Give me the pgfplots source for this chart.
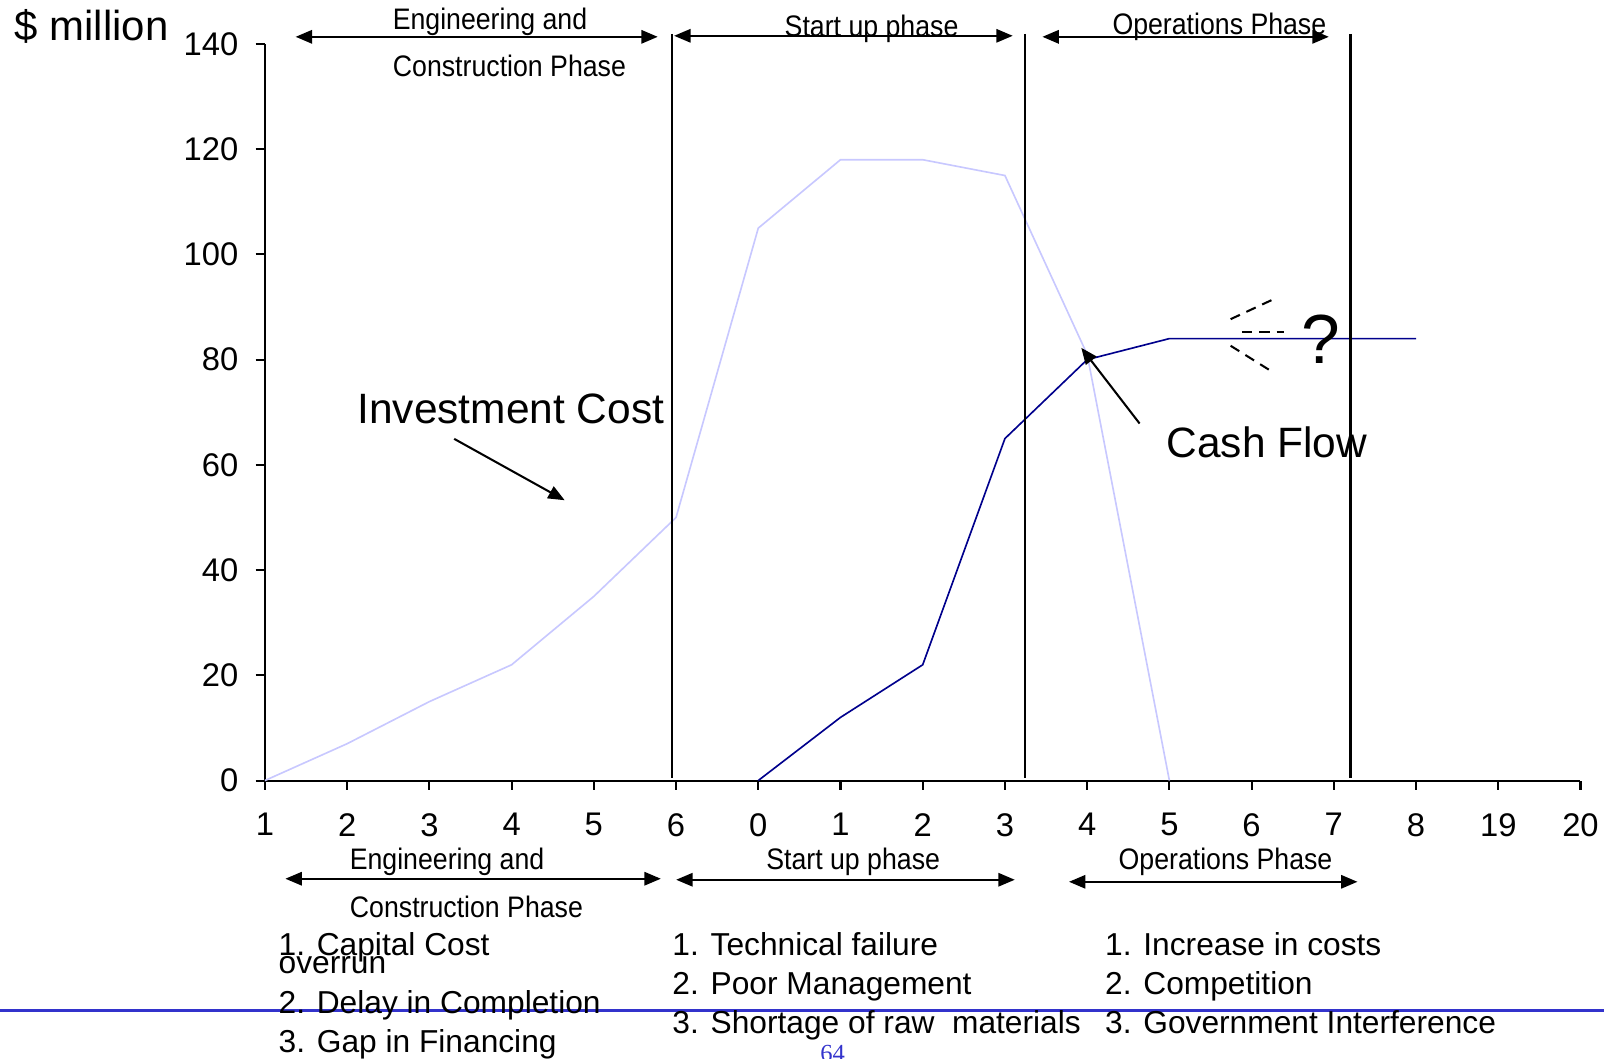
\documentclass[border=0pt]{standalone}
\usepackage{fontspec}
\setmainfont{Liberation Sans}
\newfontfamily\pagefont{Liberation Serif}
\usepackage{graphicx}
\usepackage{pgfplots}
\pgfplotsset{compat=1.18}
\usetikzlibrary{arrows.meta}

\definecolor{invest}{RGB}{200,200,255}
\definecolor{cash}{RGB}{0,0,140}
\definecolor{rulecol}{RGB}{51,51,204}

\newcommand{\sz}[1]{\fontsize{#1}{#1}\selectfont}
\newcommand{\phase}[1]{\scalebox{0.9}[1]{#1}}

\begin{document}
\begin{tikzpicture}
\begin{axis}[
  scale only axis, width=643pt, height=360pt,
  xmin=0, xmax=16, ymin=0, ymax=140,
  axis lines=left, axis line style={-, line width=1pt},
  xtick={0,...,16},
  xticklabels={1,2,3,4,5,6,0,1,2,3,4,5,6,7,8,19,20},
  ytick={0,20,...,140},
  tick align=outside, major tick length=4.5pt,
  tick style={black, line width=1pt},
  tick label style={font=\sz{16}},
  xticklabel style={yshift=-8pt},
  yticklabel style={xshift=-5pt},
  /pgf/number format/assume math mode=true,
  clip=false,
]
% investment cost over the engineering, start up and early operations years
\addplot[invest, line width=0.8pt] coordinates {
  (0,0) (1,7) (2,15) (3,22) (4,35) (5,50) (6,105) (7,118) (8,118) (9,115) (10,81) (11,0)};
% cash flow from start up onwards
\addplot[cash, line width=0.8pt] coordinates {
  (6,0) (7,12) (8,22) (9,65) (10,80) (11,84) (12,84) (13,84) (14,84)};
\end{axis}

\begin{scope}[shift={(-129.5pt,381.5pt)}, x=0.5pt, y=-0.5pt]
  % phase boundaries
  \draw[line width=1.3pt] (657,33) -- (657,761);
  \draw[line width=1.3pt] (1002,33) -- (1002,761);
  \draw[line width=1.3pt] (1320,33) -- (1320,761);

  \tikzset{phasearrow/.style={line width=1pt,
      {Triangle[length=8pt,width=6.5pt]}-{Triangle[length=8pt,width=6.5pt]}}}

  % top phase markers
  \draw[phasearrow] (289,36) -- (643,36);
  \draw[phasearrow] (659,35) -- (990,35);
  \draw[phasearrow] (1019,36) -- (1299,36);
  \node[anchor=base, inner sep=0, font=\sz{14.5}] at (479,29) {\phase{Engineering and}};
  \node[anchor=base, inner sep=0, font=\sz{14.5}] at (498,75) {\phase{Construction Phase}};
  \node[anchor=base, inner sep=0, font=\sz{14.5}] at (852,36) {\phase{Start up phase}};
  \node[anchor=base, inner sep=0, font=\sz{14.5}] at (1192,34) {\phase{Operations Phase}};

  % bottom phase markers
  \draw[phasearrow] (279,859) -- (646,859);
  \draw[phasearrow] (661,860) -- (992,860);
  \draw[phasearrow] (1045,862) -- (1327,862);
  \node[anchor=base, inner sep=0, font=\sz{14.5}] at (437,850) {\phase{Engineering and}};
  \node[anchor=base, inner sep=0, font=\sz{14.5}] at (456,897) {\phase{Construction Phase}};
  \node[anchor=base, inner sep=0, font=\sz{14.5}] at (834,850) {\phase{Start up phase}};
  \node[anchor=base, inner sep=0, font=\sz{14.5}] at (1198,850) {\phase{Operations Phase}};

  % axis title
  \node[anchor=base west, inner sep=0, font=\sz{20.5}] at (14,40) {\$ million};

  % curve labels
  \node[anchor=base west, inner sep=0, font=\sz{20.75}] at (349,414) {Investment Cost};
  \draw[line width=1pt, -{Triangle[length=8pt,width=6.5pt]}] (444,429) -- (552,489);
  \node[anchor=base west, inner sep=0, font=\sz{20.75}] at (1140,447) {Cash Flow};
  \draw[line width=1pt, -{Triangle[length=8pt,width=6.5pt]}] (1114,414) -- (1057,340);

  % uncertainty about future cash flow
  \draw[line width=1pt, dash pattern=on 5pt off 3.5pt] (1203,312) -- (1246,292);
  \draw[line width=1pt, dash pattern=on 5pt off 3.5pt] (1214,325) -- (1255,325);
  \draw[line width=1pt, dash pattern=on 5pt off 3.5pt] (1203,338) -- (1243,363);
  \node[anchor=base, inner sep=0, font=\sz{34}] at (1291,355) {?};

  % page rule
  \draw[rulecol, line width=1.2pt] (0,988) -- (1568,988);

  % risks in each phase
  \begin{scope}[every node/.style={anchor=base west, inner sep=0, font=\sz{15.5}}]
    \node at (272,934) {1. Capital Cost};
    \node at (272,952) {overrun};
    \node at (272,991) {2. Delay in Completion};
    \node at (272,1029) {3. Gap in Financing};
    \node at (657,934) {1. Technical failure};
    \node at (657,972) {2. Poor Management};
    \node at (657,1010) {3. Shortage of raw\ \ materials};
    \node at (1080,934) {1. Increase in costs};
    \node at (1080,972) {2. Competition};
    \node at (1080,1010) {3. Government Interference};
  \end{scope}

  \node[anchor=north, inner sep=0, text=rulecol, font=\pagefont\sz{12}] at (814,1021) {64};

  \pgfresetboundingbox
  \path[use as bounding box] (0,0) rectangle (1568,1035);
\end{scope}
\end{tikzpicture}
\end{document}
